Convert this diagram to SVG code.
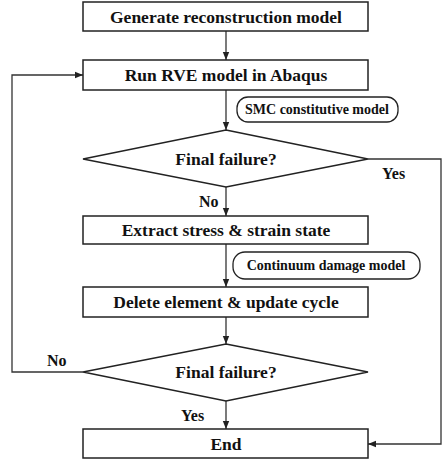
<svg xmlns="http://www.w3.org/2000/svg" width="442" height="463" viewBox="0 0 442 463">
<style>
.box{fill:#fff;stroke:#222;stroke-width:1.5}
.pill{fill:#fff;stroke:#222;stroke-width:1.3}
.t{font-family:"Liberation Serif","Times New Roman",serif;font-weight:bold;font-size:17.5px;fill:#111;text-anchor:middle}
.s{font-family:"Liberation Serif","Times New Roman",serif;font-weight:bold;font-size:14px;fill:#111;text-anchor:middle}
.l{font-family:"Liberation Serif","Times New Roman",serif;font-weight:bold;font-size:16px;fill:#111}
.c{fill:none;stroke:#333;stroke-width:1.3}
</style>
<defs>
<marker id="ah" viewBox="0 0 10 10" refX="10" refY="5" markerWidth="8" markerHeight="8" markerUnits="userSpaceOnUse" orient="auto">
<path d="M0,1 L10,5 L0,9 z" fill="#222"/>
</marker>
</defs>
<rect width="442" height="463" fill="#fff"/>
<g id="connectors">
<line class="c" x1="226" y1="31" x2="226" y2="60" marker-end="url(#ah)"/>
<line class="c" x1="226" y1="90" x2="226" y2="130" marker-end="url(#ah)"/>
<line class="c" x1="226" y1="187" x2="226" y2="216" marker-end="url(#ah)"/>
<line class="c" x1="226" y1="244" x2="226" y2="287" marker-end="url(#ah)"/>
<line class="c" x1="226" y1="317" x2="226" y2="344" marker-end="url(#ah)"/>
<line class="c" x1="226" y1="401" x2="226" y2="429" marker-end="url(#ah)"/>
<polyline class="c" points="83,372 12,372 12,75 83,75" marker-end="url(#ah)"/>
<polyline class="c" points="368,159 441,159 441,444 368,444" marker-end="url(#ah)"/>
<text class="l" x="382" y="179">Yes</text>
<text class="l" x="199" y="207">No</text>
<text class="l" x="47" y="366">No</text>
<text class="l" x="181" y="421">Yes</text>
</g>
<g id="n1"><rect class="box" x="83" y="2" width="285" height="29"/><text class="t" x="226" y="23">Generate reconstruction model</text></g>
<g id="n2"><rect class="box" x="83" y="60" width="285" height="30"/><text class="t" x="226" y="81">Run RVE model in Abaqus</text></g>
<g id="p1"><rect class="pill" x="237" y="97" width="161" height="25" rx="11"/><text class="s" x="317" y="114">SMC constitutive model</text></g>
<g id="d1"><polygon class="box" points="226,130 368,159 226,187 83,159"/><text class="t" x="226" y="165">Final failure?</text></g>
<g id="n3"><rect class="box" x="83" y="216" width="285" height="28"/><text class="t" x="226" y="236">Extract stress &amp; strain state</text></g>
<g id="p2"><rect class="pill" x="233" y="252" width="187" height="27" rx="12"/><text class="s" x="326" y="270">Continuum damage model</text></g>
<g id="n4"><rect class="box" x="83" y="287" width="285" height="30"/><text class="t" x="226" y="308">Delete element &amp; update cycle</text></g>
<g id="d2"><polygon class="box" points="226,344 368,372 226,401 83,372"/><text class="t" x="226" y="378">Final failure?</text></g>
<g id="n5"><rect class="box" x="83" y="429" width="285" height="29"/><text class="t" x="226" y="450">End</text></g>
</svg>
